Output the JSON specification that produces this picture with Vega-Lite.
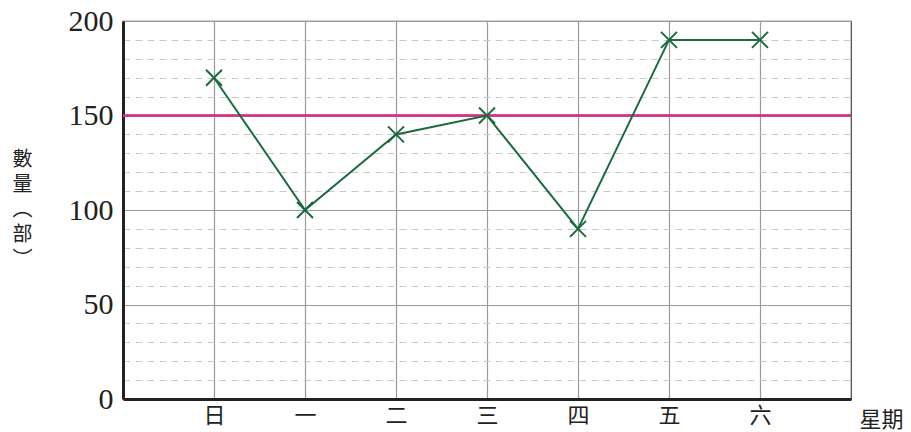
{
  "$schema": "https://vega.github.io/schema/vega-lite/v6.json",
  "width": 728,
  "height": 378,
  "autosize": "none",
  "padding": {"left": 123, "top": 21, "right": 60, "bottom": 33},
  "background": "white",
  "config": {
    "view": {"stroke": "#444", "strokeWidth": 1.2},
    "axis": {"labelFont": "Liberation Serif", "titleFont": "Noto Sans CJK TC"}
  },
  "data": {
    "values": [
      {"day": "日", "value": 170},
      {"day": "一", "value": 100},
      {"day": "二", "value": 140},
      {"day": "三", "value": 150},
      {"day": "四", "value": 90},
      {"day": "五", "value": 190},
      {"day": "六", "value": 190}
    ]
  },
  "encoding": {
    "x": {
      "field": "day",
      "type": "ordinal",
      "sort": null,
      "scale": {"type": "point", "padding": 1, "domain": ["日", "一", "二", "三", "四", "五", "六"]},
      "axis": {
        "title": "星期",
        "titleFont": "Noto Sans CJK TC",
        "titleFontSize": 22,
        "titleFontWeight": "normal",
        "titleColor": "#222",
        "titleX": 758,
        "titleY": 20,
        "titleAlign": "center",
        "titleBaseline": "middle",
        "labelAngle": 0,
        "labelFont": "Noto Sans CJK TC",
        "labelFontSize": 22,
        "labelColor": "#222",
        "labelPadding": 6,
        "ticks": false,
        "domainColor": "#222",
        "domainWidth": 3,
        "grid": true,
        "gridColor": "#9a9a9a",
        "gridWidth": 1.2
      }
    },
    "y": {
      "field": "value",
      "type": "quantitative",
      "scale": {"domain": [0, 200], "nice": false},
      "axis": {
        "values": [0, 10, 20, 30, 40, 50, 60, 70, 80, 90, 100, 110, 120, 130, 140, 150, 160, 170, 180, 190, 200],
        "labelExpr": "datum.value % 50 === 0 ? datum.label : ''",
        "labelFont": "Liberation Serif",
        "labelFontSize": 30,
        "labelColor": "#222",
        "labelPadding": 10,
        "ticks": false,
        "domainColor": "#222",
        "domainWidth": 3,
        "grid": true,
        "gridColor": {"condition": {"test": "datum.value % 50 === 0", "value": "#9a9a9a"}, "value": "#c8c8c8"},
        "gridDash": {"condition": {"test": "datum.value % 50 === 0", "value": []}, "value": [7, 5]},
        "gridWidth": 1.2,
        "title": ["數", "量", "︵", "部", "︶"],
        "titleFont": "Noto Sans CJK TC",
        "titleFontSize": 20,
        "titleFontWeight": "normal",
        "titleColor": "#222",
        "titleAngle": 0,
        "titleLineHeight": 25,
        "titleAlign": "center",
        "titleBaseline": "top",
        "titleX": -101,
        "titleY": 128
      }
    }
  },
  "layer": [
    {
      "mark": {"type": "rule", "color": "#d6318c", "strokeWidth": 1.3},
      "encoding": {"x": null, "y": {"datum": 150}}
    },
    {
      "mark": {"type": "line", "color": "#1b6b3f", "strokeWidth": 2}
    },
    {
      "mark": {"type": "point", "shape": "M-1,-1L1,1M1,-1L-1,1", "filled": false, "size": 256, "stroke": "#1b6b3f", "strokeWidth": 2, "opacity": 1}
    }
  ]
}
